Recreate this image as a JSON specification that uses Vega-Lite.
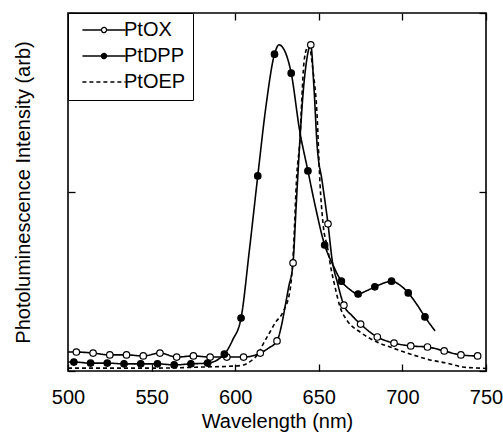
{
  "$schema": "https://vega.github.io/schema/vega-lite/v6.json",
  "width": 418,
  "height": 358,
  "autosize": "none",
  "padding": {"left": 68, "top": 13, "right": 17, "bottom": 62},
  "background": "white",
  "config": {
    "view": {"stroke": "black", "strokeWidth": 1.6},
    "font": "Liberation Sans",
    "axis": {"labelColor": "black", "titleColor": "black", "tickColor": "black", "domain": false, "grid": false, "labelFont": "Liberation Sans", "titleFont": "Liberation Sans", "titleFontWeight": "normal", "labelFlush": false}
  },
  "datasets": {
    "lines": [
      {"s": "PtOX", "wl": 500, "v": 0.053}, {"s": "PtOX", "wl": 505, "v": 0.053}, {"s": "PtOX", "wl": 515, "v": 0.05}, {"s": "PtOX", "wl": 525, "v": 0.045}, {"s": "PtOX", "wl": 535, "v": 0.045}, {"s": "PtOX", "wl": 545, "v": 0.042}, {"s": "PtOX", "wl": 555, "v": 0.05}, {"s": "PtOX", "wl": 565, "v": 0.039}, {"s": "PtOX", "wl": 575, "v": 0.042}, {"s": "PtOX", "wl": 585, "v": 0.039}, {"s": "PtOX", "wl": 595, "v": 0.039}, {"s": "PtOX", "wl": 605, "v": 0.039}, {"s": "PtOX", "wl": 615, "v": 0.05}, {"s": "PtOX", "wl": 620, "v": 0.064}, {"s": "PtOX", "wl": 625, "v": 0.084}, {"s": "PtOX", "wl": 628, "v": 0.134}, {"s": "PtOX", "wl": 630, "v": 0.184}, {"s": "PtOX", "wl": 632, "v": 0.235}, {"s": "PtOX", "wl": 634.6, "v": 0.302}, {"s": "PtOX", "wl": 636.5, "v": 0.464}, {"s": "PtOX", "wl": 638.7, "v": 0.645}, {"s": "PtOX", "wl": 640.5, "v": 0.77}, {"s": "PtOX", "wl": 642.5, "v": 0.86}, {"s": "PtOX", "wl": 645.2, "v": 0.911}, {"s": "PtOX", "wl": 647, "v": 0.8}, {"s": "PtOX", "wl": 649, "v": 0.63}, {"s": "PtOX", "wl": 652, "v": 0.53}, {"s": "PtOX", "wl": 655.5, "v": 0.411}, {"s": "PtOX", "wl": 658, "v": 0.31}, {"s": "PtOX", "wl": 661, "v": 0.249}, {"s": "PtOX", "wl": 665, "v": 0.184}, {"s": "PtOX", "wl": 670, "v": 0.154}, {"s": "PtOX", "wl": 675, "v": 0.131}, {"s": "PtOX", "wl": 685, "v": 0.095}, {"s": "PtOX", "wl": 695, "v": 0.078}, {"s": "PtOX", "wl": 705, "v": 0.07}, {"s": "PtOX", "wl": 715, "v": 0.067}, {"s": "PtOX", "wl": 725, "v": 0.056}, {"s": "PtOX", "wl": 735, "v": 0.045}, {"s": "PtOX", "wl": 745, "v": 0.042}, {"s": "PtOX", "wl": 747, "v": 0.042},
      {"s": "PtDPP", "wl": 500, "v": 0.025}, {"s": "PtDPP", "wl": 503.5, "v": 0.025}, {"s": "PtDPP", "wl": 513.5, "v": 0.022}, {"s": "PtDPP", "wl": 523.5, "v": 0.022}, {"s": "PtDPP", "wl": 533.5, "v": 0.02}, {"s": "PtDPP", "wl": 543.5, "v": 0.02}, {"s": "PtDPP", "wl": 553.5, "v": 0.02}, {"s": "PtDPP", "wl": 563.5, "v": 0.017}, {"s": "PtDPP", "wl": 573.5, "v": 0.02}, {"s": "PtDPP", "wl": 583.5, "v": 0.022}, {"s": "PtDPP", "wl": 593.5, "v": 0.047}, {"s": "PtDPP", "wl": 598.5, "v": 0.087}, {"s": "PtDPP", "wl": 603.5, "v": 0.148}, {"s": "PtDPP", "wl": 608.5, "v": 0.338}, {"s": "PtDPP", "wl": 613.5, "v": 0.545}, {"s": "PtDPP", "wl": 618.5, "v": 0.743}, {"s": "PtDPP", "wl": 623.5, "v": 0.885}, {"s": "PtDPP", "wl": 626.2, "v": 0.911}, {"s": "PtDPP", "wl": 630, "v": 0.89}, {"s": "PtDPP", "wl": 633.5, "v": 0.832}, {"s": "PtDPP", "wl": 638.5, "v": 0.673}, {"s": "PtDPP", "wl": 643.5, "v": 0.559}, {"s": "PtDPP", "wl": 648, "v": 0.458}, {"s": "PtDPP", "wl": 653.5, "v": 0.352}, {"s": "PtDPP", "wl": 658.5, "v": 0.296}, {"s": "PtDPP", "wl": 663.5, "v": 0.251}, {"s": "PtDPP", "wl": 668.5, "v": 0.228}, {"s": "PtDPP", "wl": 673.5, "v": 0.215}, {"s": "PtDPP", "wl": 678.5, "v": 0.224}, {"s": "PtDPP", "wl": 683.5, "v": 0.235}, {"s": "PtDPP", "wl": 688.5, "v": 0.245}, {"s": "PtDPP", "wl": 693.5, "v": 0.251}, {"s": "PtDPP", "wl": 698.5, "v": 0.24}, {"s": "PtDPP", "wl": 703.5, "v": 0.218}, {"s": "PtDPP", "wl": 708.5, "v": 0.187}, {"s": "PtDPP", "wl": 713.5, "v": 0.151}, {"s": "PtDPP", "wl": 719.5, "v": 0.112},
      {"s": "PtOEP", "wl": 500, "v": 0.008}, {"s": "PtOEP", "wl": 550, "v": 0.008}, {"s": "PtOEP", "wl": 580, "v": 0.011}, {"s": "PtOEP", "wl": 600, "v": 0.014}, {"s": "PtOEP", "wl": 605, "v": 0.017}, {"s": "PtOEP", "wl": 610, "v": 0.03}, {"s": "PtOEP", "wl": 614, "v": 0.05}, {"s": "PtOEP", "wl": 617, "v": 0.078}, {"s": "PtOEP", "wl": 620.8, "v": 0.109}, {"s": "PtOEP", "wl": 624, "v": 0.135}, {"s": "PtOEP", "wl": 628.6, "v": 0.165}, {"s": "PtOEP", "wl": 632.8, "v": 0.226}, {"s": "PtOEP", "wl": 634.5, "v": 0.31}, {"s": "PtOEP", "wl": 636.9, "v": 0.553}, {"s": "PtOEP", "wl": 638.7, "v": 0.645}, {"s": "PtOEP", "wl": 639.9, "v": 0.765}, {"s": "PtOEP", "wl": 641.1, "v": 0.86}, {"s": "PtOEP", "wl": 642.9, "v": 0.902}, {"s": "PtOEP", "wl": 644.1, "v": 0.908}, {"s": "PtOEP", "wl": 646.5, "v": 0.84}, {"s": "PtOEP", "wl": 648.9, "v": 0.72}, {"s": "PtOEP", "wl": 650.7, "v": 0.525}, {"s": "PtOEP", "wl": 652.5, "v": 0.413}, {"s": "PtOEP", "wl": 655.5, "v": 0.338}, {"s": "PtOEP", "wl": 656.7, "v": 0.302}, {"s": "PtOEP", "wl": 659.7, "v": 0.235}, {"s": "PtOEP", "wl": 662.7, "v": 0.179}, {"s": "PtOEP", "wl": 666.8, "v": 0.142}, {"s": "PtOEP", "wl": 674.6, "v": 0.109}, {"s": "PtOEP", "wl": 684.8, "v": 0.081}, {"s": "PtOEP", "wl": 694.4, "v": 0.064}, {"s": "PtOEP", "wl": 706.3, "v": 0.045}, {"s": "PtOEP", "wl": 716.5, "v": 0.031}, {"s": "PtOEP", "wl": 726.6, "v": 0.022}, {"s": "PtOEP", "wl": 736.2, "v": 0.011}, {"s": "PtOEP", "wl": 746.4, "v": 0.008}, {"s": "PtOEP", "wl": 750, "v": 0.007}
    ],
    "markers": [
      {"s": "PtOX", "wl": 505, "v": 0.053}, {"s": "PtOX", "wl": 515, "v": 0.05}, {"s": "PtOX", "wl": 525, "v": 0.045}, {"s": "PtOX", "wl": 535, "v": 0.045}, {"s": "PtOX", "wl": 545, "v": 0.042}, {"s": "PtOX", "wl": 555, "v": 0.05}, {"s": "PtOX", "wl": 565, "v": 0.039}, {"s": "PtOX", "wl": 575, "v": 0.042}, {"s": "PtOX", "wl": 585, "v": 0.039}, {"s": "PtOX", "wl": 595, "v": 0.039}, {"s": "PtOX", "wl": 605, "v": 0.039}, {"s": "PtOX", "wl": 615, "v": 0.05}, {"s": "PtOX", "wl": 625, "v": 0.084}, {"s": "PtOX", "wl": 634.6, "v": 0.302}, {"s": "PtOX", "wl": 645.2, "v": 0.911}, {"s": "PtOX", "wl": 655.5, "v": 0.411}, {"s": "PtOX", "wl": 665, "v": 0.184}, {"s": "PtOX", "wl": 675, "v": 0.131}, {"s": "PtOX", "wl": 685, "v": 0.095}, {"s": "PtOX", "wl": 695, "v": 0.078}, {"s": "PtOX", "wl": 705, "v": 0.07}, {"s": "PtOX", "wl": 715, "v": 0.067}, {"s": "PtOX", "wl": 725, "v": 0.056}, {"s": "PtOX", "wl": 735, "v": 0.045}, {"s": "PtOX", "wl": 745, "v": 0.042},
      {"s": "PtDPP", "wl": 503.5, "v": 0.025}, {"s": "PtDPP", "wl": 513.5, "v": 0.022}, {"s": "PtDPP", "wl": 523.5, "v": 0.022}, {"s": "PtDPP", "wl": 533.5, "v": 0.02}, {"s": "PtDPP", "wl": 543.5, "v": 0.02}, {"s": "PtDPP", "wl": 553.5, "v": 0.02}, {"s": "PtDPP", "wl": 563.5, "v": 0.017}, {"s": "PtDPP", "wl": 573.5, "v": 0.02}, {"s": "PtDPP", "wl": 583.5, "v": 0.022}, {"s": "PtDPP", "wl": 593.5, "v": 0.047}, {"s": "PtDPP", "wl": 603.5, "v": 0.148}, {"s": "PtDPP", "wl": 613.5, "v": 0.545}, {"s": "PtDPP", "wl": 623.5, "v": 0.885}, {"s": "PtDPP", "wl": 633.5, "v": 0.832}, {"s": "PtDPP", "wl": 643.5, "v": 0.559}, {"s": "PtDPP", "wl": 653.5, "v": 0.352}, {"s": "PtDPP", "wl": 663.5, "v": 0.251}, {"s": "PtDPP", "wl": 673.5, "v": 0.215}, {"s": "PtDPP", "wl": 683.5, "v": 0.235}, {"s": "PtDPP", "wl": 693.5, "v": 0.251}, {"s": "PtDPP", "wl": 703.5, "v": 0.218}, {"s": "PtDPP", "wl": 713.5, "v": 0.151}
    ]
  },
  "resolve": {"axis": {"x": "independent", "y": "independent"}},
  "layer": [
    {
      "data": {"name": "lines"},
      "mark": {"type": "line", "color": "black", "strokeWidth": 1.6, "interpolate": "monotone"},
      "encoding": {
        "x": {"field": "wl", "type": "quantitative", "scale": {"domain": [500, 750], "nice": false, "zero": false},
          "axis": {"orient": "bottom", "values": [500, 550, 600, 650, 700, 750], "labelFontSize": 20, "labelPadding": 16, "tickSize": 7, "offset": -7, "tickWidth": 1.3, "title": "Wavelength (nm)", "titleFontSize": 20, "titlePadding": 4}},
        "y": {"field": "v", "type": "quantitative", "scale": {"domain": [0, 1], "nice": false},
          "axis": {"orient": "left", "values": [0, 0.5, 1], "labels": false, "tickSize": 7, "offset": -7, "tickWidth": 1.3, "title": "Photoluminescence Intensity (arb)", "titleFontSize": 20, "titlePadding": 34}},
        "detail": {"field": "s"},
        "strokeDash": {"field": "s", "type": "nominal", "title": null, "scale": {"domain": ["PtOX", "PtDPP", "PtOEP"], "range": [[1, 0], [1, 0], [4, 3]]}}
      }
    },
    {
      "data": {"name": "markers"},
      "mark": {"type": "point", "shape": "circle", "filled": true, "size": 42, "stroke": "black", "strokeWidth": 1.2, "opacity": 1},
      "encoding": {
        "x": {"field": "wl", "type": "quantitative", "axis": {"orient": "top", "values": [500, 550, 600, 650, 700, 750], "labels": false, "tickSize": 7, "offset": -7, "tickWidth": 1.3, "title": null}},
        "y": {"field": "v", "type": "quantitative", "axis": {"orient": "right", "values": [0, 0.5, 1], "labels": false, "tickSize": 7, "offset": -7, "tickWidth": 1.3, "title": null}},
        "fill": {"field": "s", "type": "nominal", "title": null, "scale": {"domain": ["PtOX", "PtDPP", "PtOEP"], "range": ["white", "black", "white"]}}
      }
    },
    {
      "data": {"name": "lines"},
      "mark": {"type": "point", "filled": true, "size": 36, "stroke": "black", "strokeWidth": 1.3, "opacity": 0},
      "encoding": {
        "x": {"field": "wl", "type": "quantitative", "axis": null},
        "y": {"field": "v", "type": "quantitative", "axis": null},
        "fill": {"field": "s", "type": "nominal", "title": null},
        "shape": {"field": "s", "type": "nominal", "title": null,
          "scale": {"domain": ["PtOX", "PtDPP", "PtOEP"], "range": [
            "M0,-2.67M0,2.67M-7.2,0H-0.85M0.85,0H7.2M0.85,0A0.85,0.85 0 1,1 -0.85,0A0.85,0.85 0 1,1 0.85,0",
            "M0,-2.67M0,2.67M-7.2,0H-0.85M0.85,0H7.2M0.85,0A0.85,0.85 0 1,1 -0.85,0A0.85,0.85 0 1,1 0.85,0",
            "M0,-2.67M0,2.67M-7.2,0H7.2"
          ]},
          "legend": {"orient": "none", "legendX": 0, "legendY": 0, "padding": 7, "symbolOffset": 19, "labelOffset": 10, "rowPadding": 4, "symbolSize": 36, "symbolStrokeColor": "black", "symbolStrokeWidth": 1.3, "symbolOpacity": 1, "labelFontSize": 20, "labelFont": "Liberation Sans", "labelColor": "black", "strokeColor": "black", "fillColor": "white", "cornerRadius": 0,
            "encode": {"legend": {"update": {"strokeWidth": {"value": 1.6}}}}}
        }
      }
    }
  ]
}
